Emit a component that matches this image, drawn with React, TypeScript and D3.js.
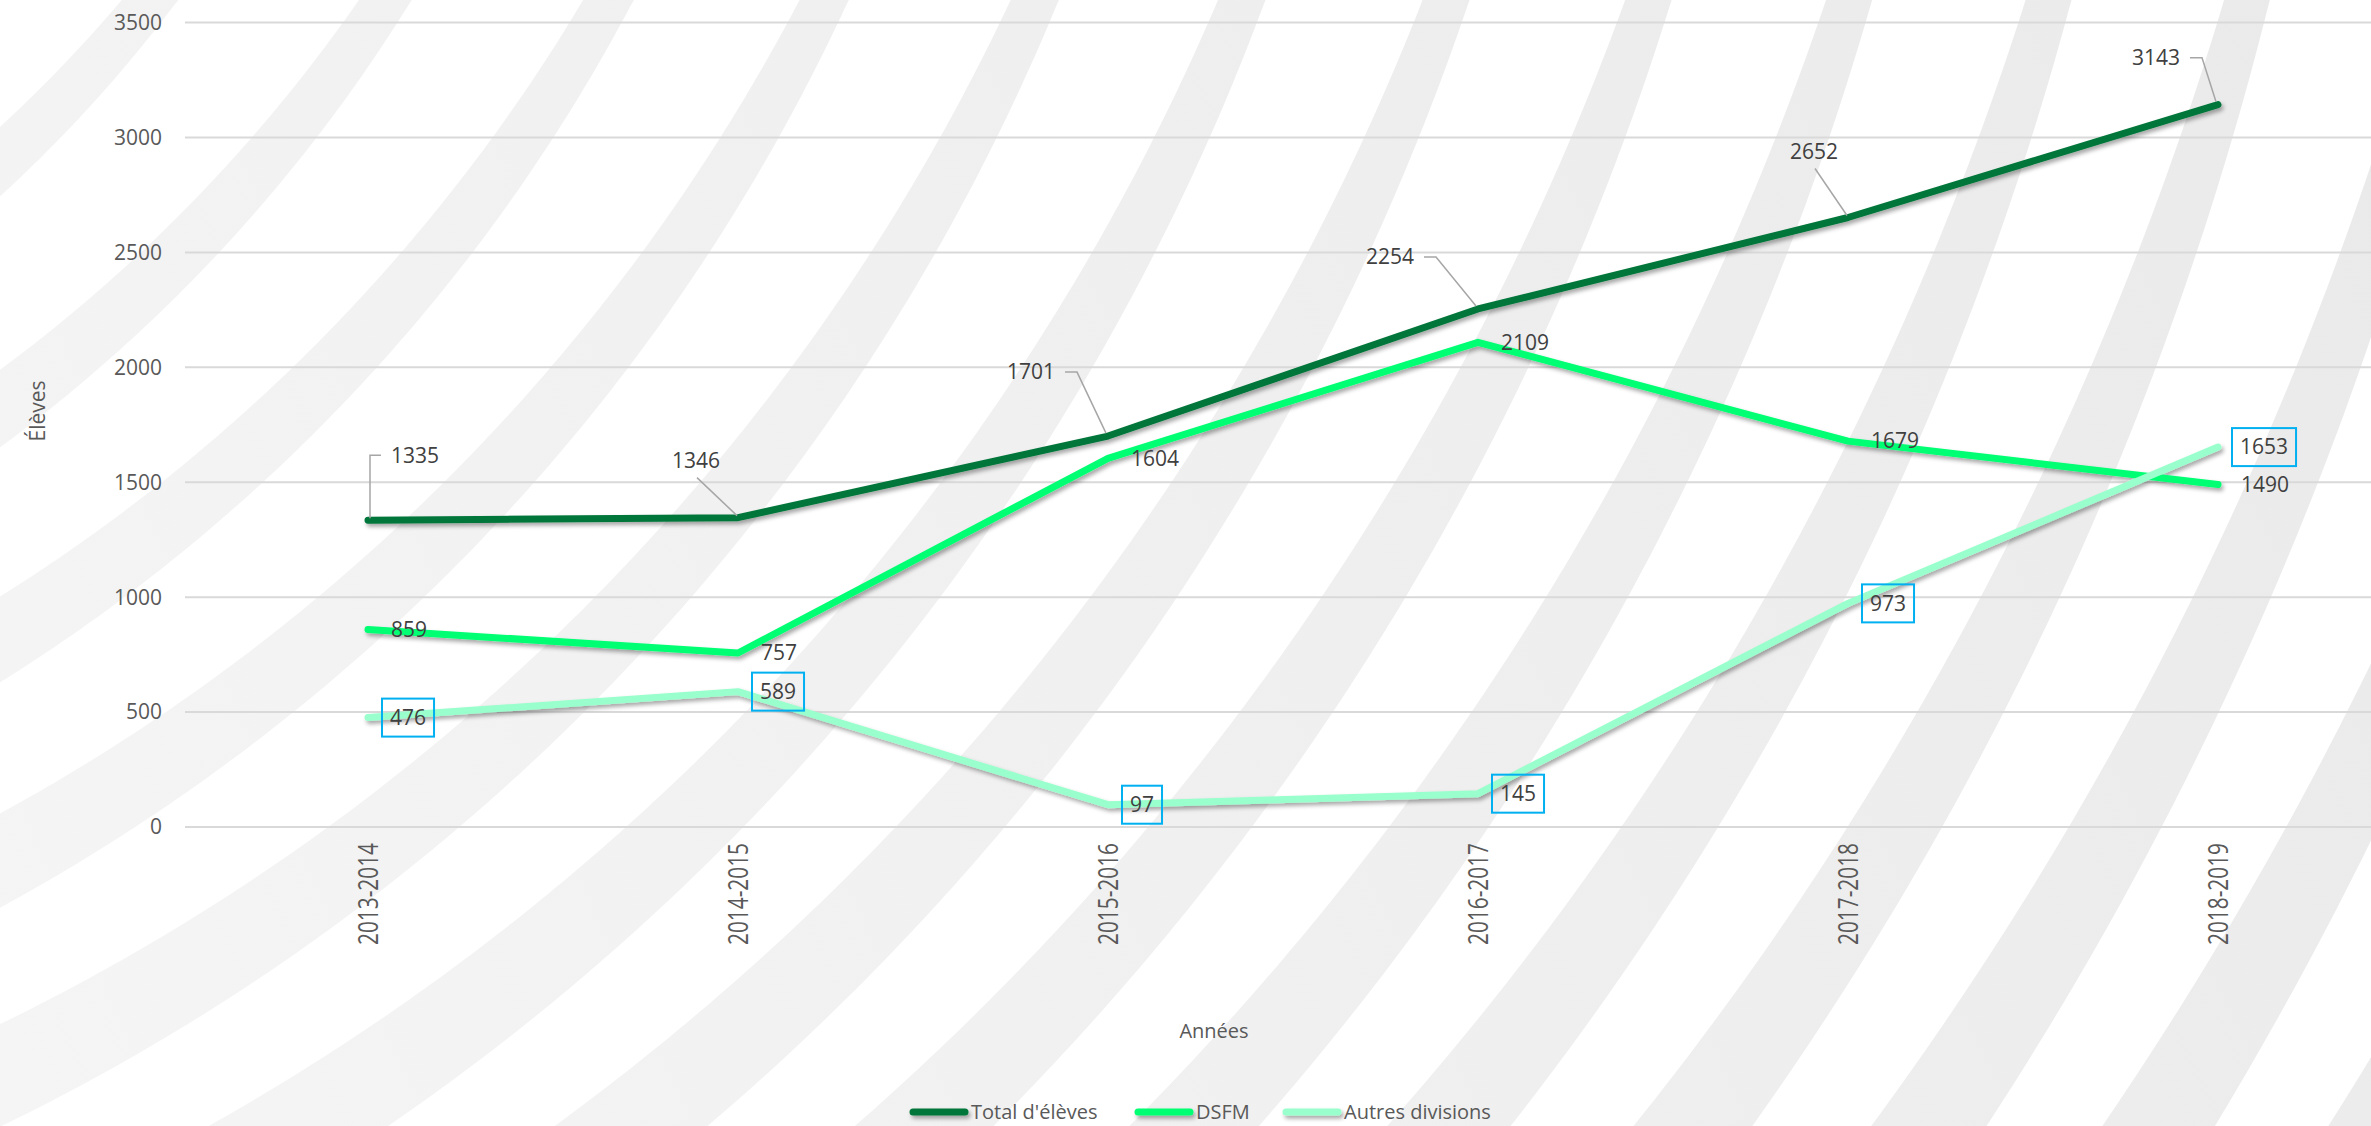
import * as d3 from 'd3'

// chart values
const categories = ['2013-2014', '2014-2015', '2015-2016', '2016-2017', '2017-2018', '2018-2019']
const totalValues = [1335, 1346, 1701, 2254, 2652, 3143]
const dsfmValues = [859, 757, 1604, 2109, 1679, 1490]
const autresValues = [476, 589, 97, 145, 973, 1653]
const seriesNames = ["Total d'élèves", 'DSFM', 'Autres divisions']
const yTicks = [0, 500, 1000, 1500, 2000, 2500, 3000, 3500]

// label placement for the "Total" series (offsets from the point, in px)
const totalLabelLayout = [
  { dx: 47, dy: -65, leader: 'left' },
  { dx: -42, dy: -57, leader: 'bottom' },
  { dx: -77, dy: -64, leader: 'right' },
  { dx: -88, dy: -52, leader: 'right' },
  { dx: -34, dy: -66, leader: 'bottom' },
  { dx: -62, dy: -47, leader: 'right' }
]

const W = 2371
const H = 1126
const FONT = '"Open Sans", "DejaVu Sans", sans-serif'
const colors = ['#00763A', '#00FF73', '#99FFCC']

const x = d3.scalePoint<string>().domain(categories).range([368, 2218])
const y = d3.scaleLinear().domain([0, 3500]).range([827, 22.6])

const line = d3.line<number>()
  .x((_, i) => x(categories[i]) as number)
  .y(d => y(d))

const labelFont = 21
const digitW = labelFont * 0.572
const textWidth = (v: number) => String(v).length * digitW

// background watermark: concentric bands that widen towards the bottom
const arcCenter = [-943, -868]
const arcPath = (r: number) => {
  const outer: [number, number][] = []
  const inner: [number, number][] = []
  d3.range(0, Math.PI / 2 + 0.001, 0.004).forEach(t => {
    const c = Math.cos(t)
    const s = Math.sin(t)
    const py = arcCenter[1] + r * s
    const w = 44 + 0.045 * Math.max(0, py)
    outer.push([arcCenter[0] + (r + w / 2) * c, arcCenter[1] + (r + w / 2) * s])
    inner.push([arcCenter[0] + (r - w / 2) * c, arcCenter[1] + (r - w / 2) * s])
  })
  const pts = outer.concat(inner.reverse())
  return (d3.line().curve(d3.curveLinearClosed)(pts)) ?? ''
}

export default function App() {
  const series = [totalValues, dsfmValues, autresValues]

  return (
    <svg width={W} height={H} style={{ display: 'block', background: '#fff' }} fontFamily={FONT}>
      <style>{'body{margin:0}'}</style>
      <defs>
        <filter id="shadow" filterUnits="userSpaceOnUse" x="0" y="0" width={W} height={H}>
          <feDropShadow dx="2" dy="3" stdDeviation="2" floodColor="#000" floodOpacity="0.35" />
        </filter>
        <linearGradient id="arcFade" gradientUnits="userSpaceOnUse" x1={W} y1={0} x2={0} y2={H}>
          <stop offset="0%" stopColor="#EAEAEA" />
          <stop offset="100%" stopColor="#F5F5F5" />
        </linearGradient>
      </defs>

      {/* decorative arcs in the background */}
      <g fill="url(#arcFade)" stroke="none">
        {d3.range(14).map(k => (
          <path key={k} d={arcPath(1396 + 191 * k)} />
        ))}
      </g>

      {/* grid + y axis */}
      <g>
        {yTicks.map(t => (
          <g key={t}>
            <line x1={185} x2={W} y1={y(t)} y2={y(t)} stroke="#D9D9D9" strokeWidth={2} />
            <text x={162} y={y(t)} dy="0.35em" textAnchor="end" fontSize={21} fill="#595959">{t}</text>
          </g>
        ))}
      </g>

      {/* x axis labels */}
      <g>
        {categories.map(c => (
          <text key={c} transform={`translate(${x(c)},843) rotate(-90)`} dy="0.35em" textAnchor="end"
            fontSize={28} fill="#595959" textLength={102} lengthAdjust="spacingAndGlyphs">{c}</text>
        ))}
      </g>

      {/* axis titles */}
      <text transform="translate(45,411) rotate(-90)" textAnchor="middle" fontSize={21} fill="#595959">Élèves</text>
      <text x={1214} y={1038} textAnchor="middle" fontSize={20} fill="#595959">Années</text>

      {/* series lines */}
      <g filter="url(#shadow)">
        {series.map((vals, i) => (
          <path key={i} d={line(vals) ?? ''} fill="none" stroke={colors[i]} strokeWidth={7}
            strokeLinecap="round" strokeLinejoin="round" />
        ))}
      </g>

      {/* Total labels with leader lines */}
      <g fontSize={labelFont} fill="#404040">
        {totalValues.map((v, i) => {
          const px = x(categories[i]) as number
          const py = y(v)
          const l = totalLabelLayout[i]
          const lx = px + l.dx
          const ly = py + l.dy
          const hw = textWidth(v) / 2
          let d = ''
          if (l.leader === 'left') d = `M${px + 2},${py - 2}L${px + 2},${ly}L${lx - hw - 10},${ly}`
          else if (l.leader === 'right') d = `M${lx + hw + 10},${ly}L${lx + hw + 22},${ly}L${px - 2},${py - 3}`
          else d = `M${lx + 1},${ly + 17}L${px - 1},${py - 2}`
          return (
            <g key={i}>
              <path d={d} fill="none" stroke="#A6A6A6" strokeWidth={1.5} />
              <text x={lx} y={ly} dy="0.35em" textAnchor="middle">{v}</text>
            </g>
          )
        })}
      </g>

      {/* DSFM labels */}
      <g fontSize={labelFont} fill="#404040">
        {dsfmValues.map((v, i) => (
          <text key={i} x={(x(categories[i]) as number) + 23} y={y(v)} dy="0.35em">{v}</text>
        ))}
      </g>

      {/* Autres divisions labels, boxed */}
      <g fontSize={labelFont} fill="#404040">
        {autresValues.map((v, i) => {
          const bx = (x(categories[i]) as number) + 14
          const bw = textWidth(v) + 16
          return (
            <g key={i}>
              <rect x={bx} y={y(v) - 19} width={bw} height={38} fill="none" stroke="#00B0F0" strokeWidth={2} />
              <text x={bx + bw / 2} y={y(v)} dy="0.35em" textAnchor="middle">{v}</text>
            </g>
          )
        })}
      </g>

      {/* legend */}
      <g fontSize={20} fill="#595959">
        {seriesNames.map((name, i) => {
          const lx = [910, 1135, 1283][i]
          return (
            <g key={name}>
              <line x1={lx + 3} x2={lx + 55} y1={1112} y2={1112} stroke={colors[i]} strokeWidth={7}
                strokeLinecap="round" filter="url(#shadow)" />
              <text x={lx + 61} y={1112} dy="0.36em">{name}</text>
            </g>
          )
        })}
      </g>
    </svg>
  )
}
